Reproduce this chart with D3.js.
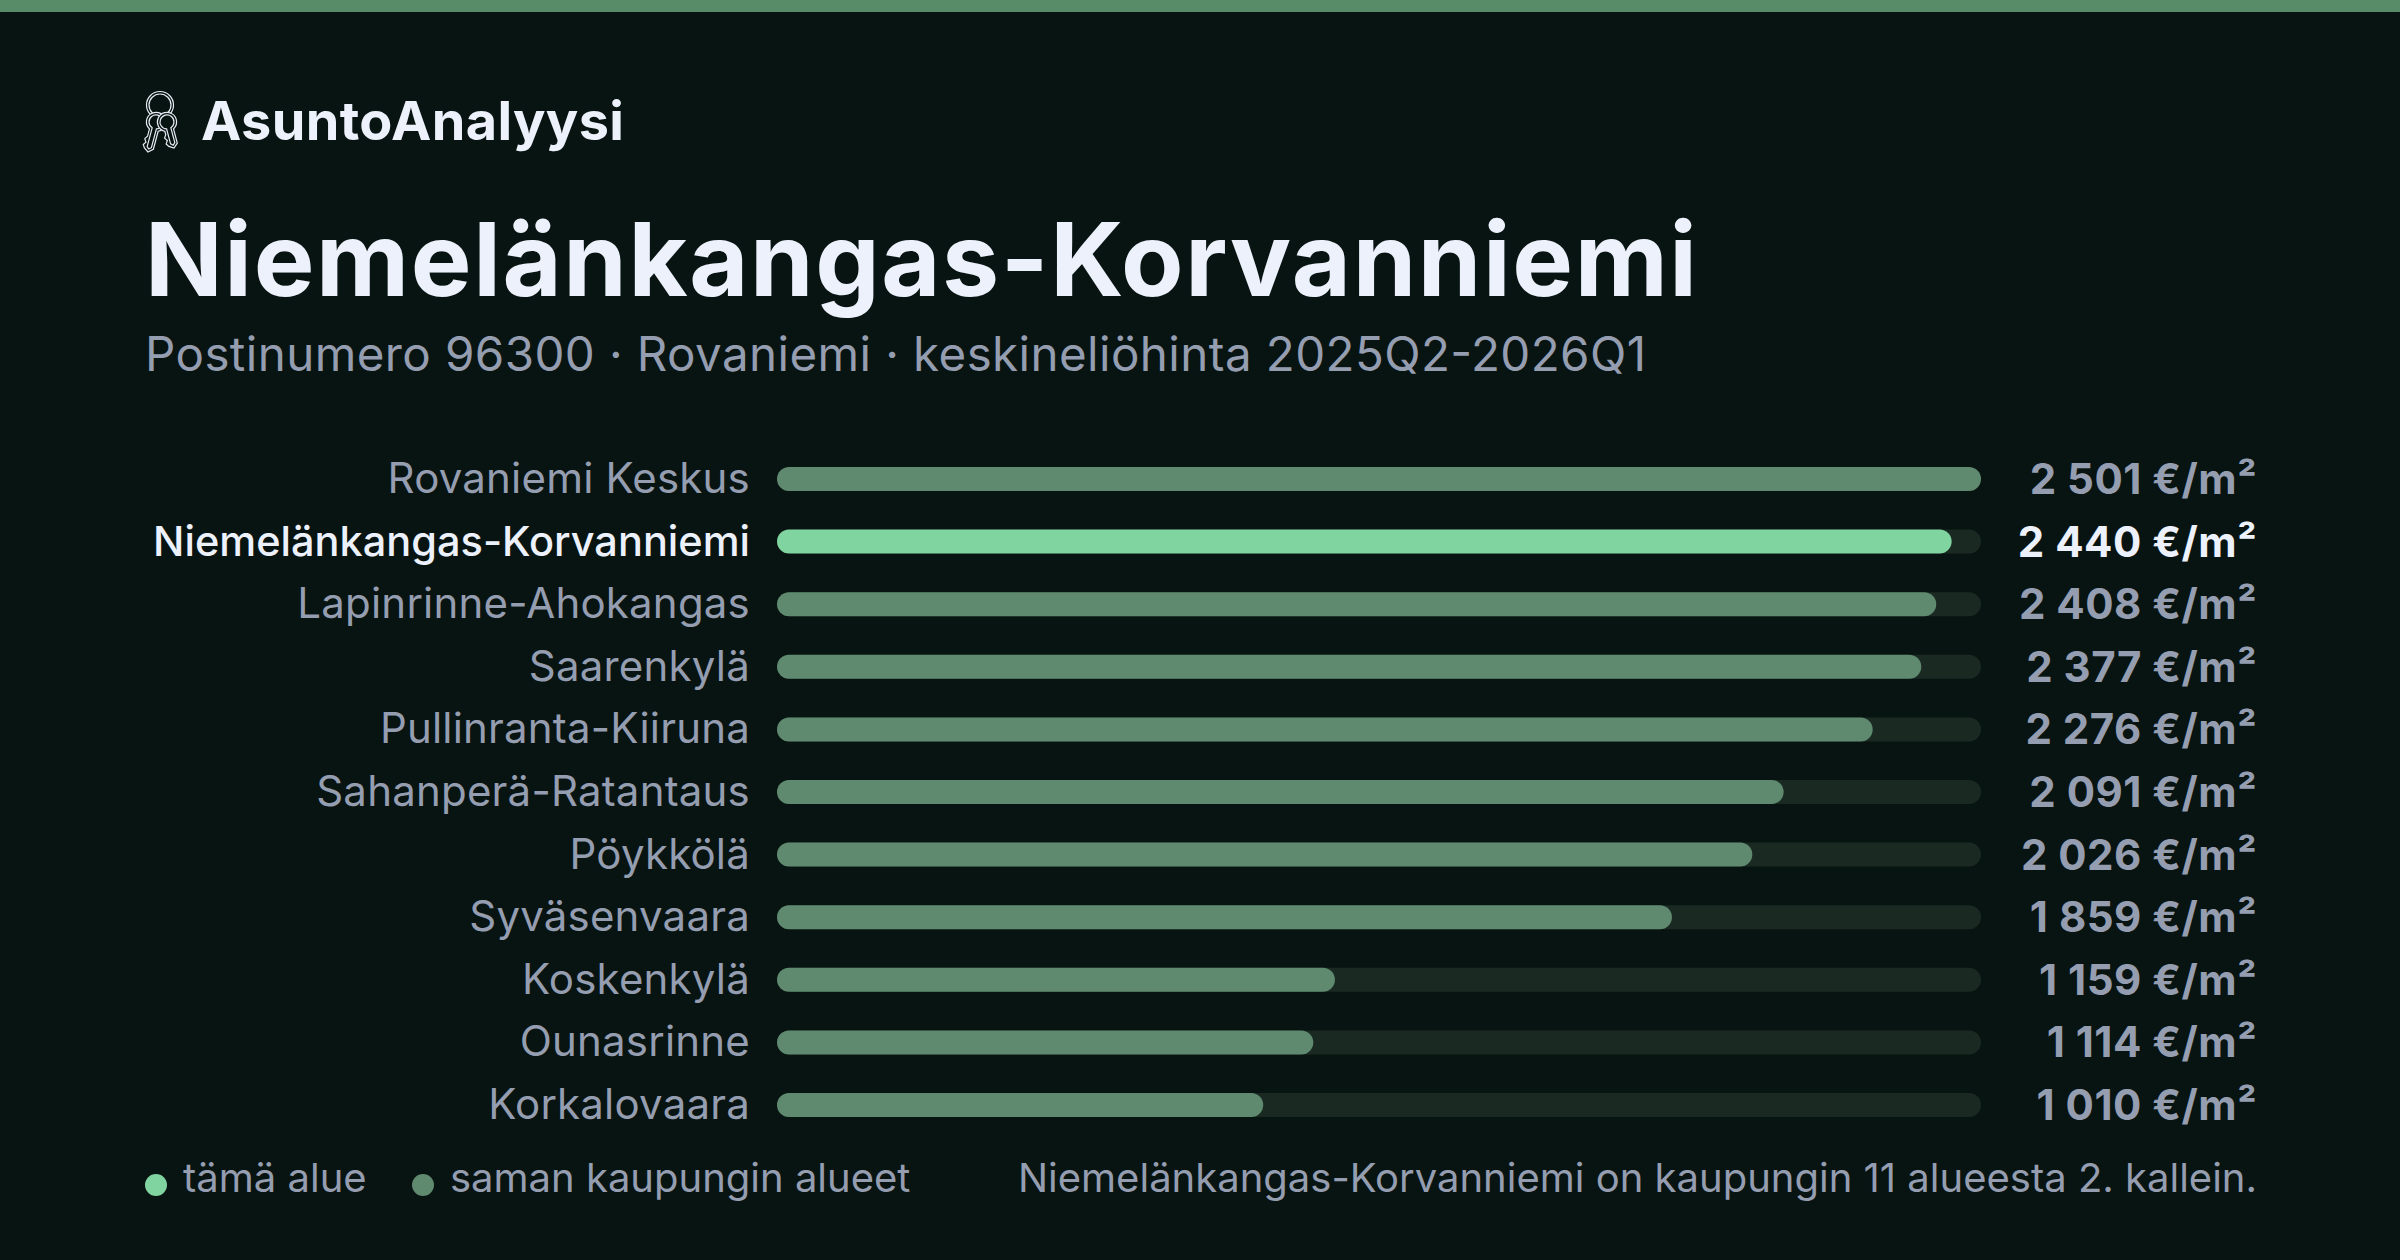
<!DOCTYPE html>
<html><head><meta charset="utf-8">
<script src="https://cdnjs.cloudflare.com/ajax/libs/d3/7.8.5/d3.min.js"></script>
<style>html,body{margin:0;padding:0;background:#081411}svg{display:block}text{font-family:Inter,sans-serif}</style>
</head><body><svg id="c" width="2400" height="1260"></svg>
<script>
const categories=["Rovaniemi Keskus","Niemelänkangas-Korvanniemi","Lapinrinne-Ahokangas","Saarenkylä","Pullinranta-Kiiruna","Sahanperä-Ratantaus","Pöykkölä","Syväsenvaara","Koskenkylä","Ounasrinne","Korkalovaara"];
const values=[2501,2440,2408,2377,2276,2091,2026,1859,1159,1114,1010];
const valueLabels=["2 501 €/m²","2 440 €/m²","2 408 €/m²","2 377 €/m²","2 276 €/m²","2 091 €/m²","2 026 €/m²","1 859 €/m²","1 159 €/m²","1 114 €/m²","1 010 €/m²"];
const highlight="Niemelänkangas-Korvanniemi";
const legendLabels=["tämä alue","saman kaupungin alueet"];
const svg=d3.select("#c");
const BG="#081411",HI="#80d4a0",MUTED="#5f8a70",TRACK="#1a2a23",GREY="#959db0",WHITE="#edf1fb";
svg.append("rect").attr("width",2400).attr("height",1260).attr("fill",BG);
svg.append("rect").attr("width",2400).attr("height",12).attr("fill","#588c69");
// logo: key ring with two keys
const key=svg.append("g").attr("stroke","#e6ebf5").attr("stroke-width",1.2).attr("fill","none");
[13.5,11].forEach(r=>key.append("circle").attr("cx",160).attr("cy",105).attr("r",r));
[[156,122,15,30],[167,122,-15,26]].forEach(([cx,cy,rot,L])=>{
  const g=key.append("g").attr("transform",`translate(${cx},${cy}) rotate(${rot})`);
  g.append("path").attr("fill",BG).attr("d",`M-4.5,8.4A9.6,9.6 0 1 1 4.5,8.4L4.5,${L-3}L0,${L+1}L-4.5,${L-2}L-6.5,${L-5}L-4.5,${L-8}L-6.5,${L-11}L-4.5,${L-14}Z`);
  g.append("path").attr("d",`M-2.2,6.6A7,7 0 1 1 2.2,6.6L2.2,${L-4}L0,${L-2}L-2.2,${L-4}Z`);
});
const text=(x,y,s,size,w,fill,anchor,len)=>{const t=svg.append("text").attr("x",x).attr("y",y).attr("font-size",size).attr("font-weight",w).attr("fill",fill).attr("text-anchor",anchor||"start").text(s);if(len)t.attr("textLength",len).attr("lengthAdjust","spacing");return t;};
text(201,140,"AsuntoAnalyysi",54,700,WHITE,"start",423);
text(145,296,"Niemelänkangas-Korvanniemi",102,700,WHITE,"start",1552);
text(145,371,"Postinumero 96300 · Rovaniemi · keskineliöhinta 2025Q2-2026Q1",47.5,400,GREY,"start",1501);
const x=d3.scaleLinear().domain([0,d3.max(values)]).range([777,1981]);
const y=d3.scalePoint().domain(categories).range([479,1105]);
const H=24;
const rows=svg.append("g").selectAll("g").data(categories).join("g");
rows.append("rect").attr("x",x(0)).attr("y",d=>y(d)-H/2).attr("width",x.range()[1]-x(0)).attr("height",H).attr("rx",12).attr("fill",TRACK);
rows.append("rect").attr("x",x(0)).attr("y",d=>y(d)-H/2).attr("width",(d,i)=>x(values[i])-x(0)).attr("height",H).attr("rx",12).attr("fill",d=>d===highlight?HI:MUTED);
rows.append("text").attr("x",750).attr("y",d=>y(d)+14).attr("text-anchor","end").attr("font-size",d=>d===highlight?41.5:42).attr("letter-spacing",d=>d===highlight?0:0.2).attr("font-weight",d=>d===highlight?500:400).attr("fill",d=>d===highlight?WHITE:GREY).text(d=>d);
rows.append("text").attr("x",2257).attr("y",d=>y(d)+15).attr("text-anchor","end").attr("font-size",42).attr("letter-spacing",0.5).attr("font-weight",700).attr("fill",d=>d===highlight?WHITE:GREY).text((d,i)=>valueLabels[i]);
const lx=[156,423],tx=[183,450];
[HI,MUTED].forEach((c,i)=>{svg.append("circle").attr("cx",lx[i]).attr("cy",1185).attr("r",11).attr("fill",c);text(tx[i],1192,legendLabels[i],40,400,GREY);});
text(2257,1192,"Niemelänkangas-Korvanniemi on kaupungin 11 alueesta 2. kallein.",40,400,GREY,"end");
</script></body></html>
